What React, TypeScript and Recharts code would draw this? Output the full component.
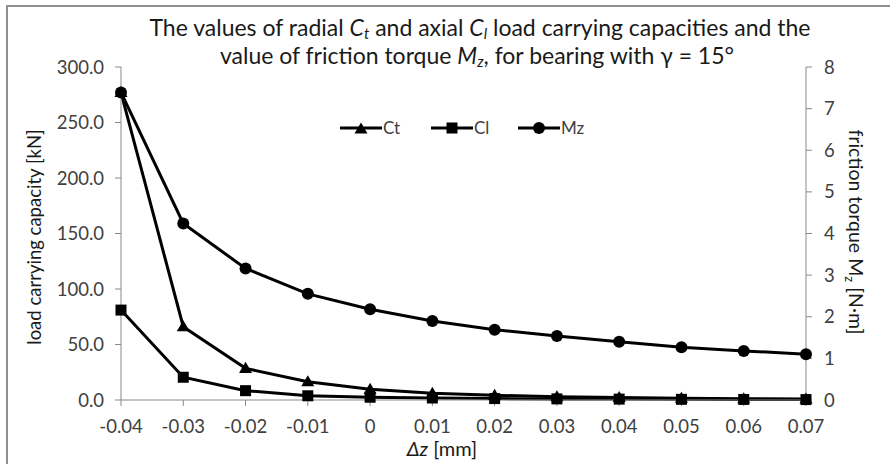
import React from 'react';
import { LineChart, Line, XAxis, YAxis } from 'recharts';

const xLabels = ['-0.04', '-0.03', '-0.02', '-0.01', '0', '0.01', '0.02', '0.03', '0.04', '0.05', '0.06', '0.07'];
const ctValues = [277, 66, 28.5, 16.5, 9.6, 6.0, 4.2, 3.0, 2.2, 1.6, 1.2, 1.0];
const clValues = [81, 20.5, 8.4, 3.8, 2.5, 1.8, 1.3, 1.0, 0.8, 0.6, 0.5, 0.4];
const mzValues = [7.39, 4.24, 3.16, 2.55, 2.18, 1.9, 1.69, 1.54, 1.4, 1.27, 1.18, 1.1];
const leftTicks = [0, 50, 100, 150, 200, 250, 300];
const rightTicks = [0, 1, 2, 3, 4, 5, 6, 7, 8];
const seriesNames = ['Ct', 'Cl', 'Mz'];

const data = xLabels.map((l, i) => ({
  x: parseFloat(l),
  Ct: ctValues[i],
  Cl: clValues[i],
  Mz: mzValues[i],
}));

const FONT = 'Lato, "Open Sans", sans-serif';
const AXIS_COLOR = '#898989';
const TEXT_COLOR = '#404040';

const Triangle = (props: any) => {
  const { cx, cy } = props;
  if (cx == null || cy == null) return null;
  const s = 6.5;
  return <polygon points={`${cx},${cy - s} ${cx + s},${cy + s * 0.7} ${cx - s},${cy + s * 0.7}`} fill="#000" />;
};
const Square = (props: any) => {
  const { cx, cy } = props;
  if (cx == null || cy == null) return null;
  return <rect x={cx - 5.5} y={cy - 5.5} width={11} height={11} fill="#000" />;
};
const Circle = (props: any) => {
  const { cx, cy } = props;
  if (cx == null || cy == null) return null;
  return <circle cx={cx} cy={cy} r={6} fill="#000" />;
};

const legendItems = [
  { name: seriesNames[0], x: 340, shape: 'tri' },
  { name: seriesNames[1], x: 431, shape: 'sq' },
  { name: seriesNames[2], x: 518, shape: 'circ' },
];

export default function App() {
  const ly = 128;
  return (
    <div style={{ position: 'absolute', left: 0, top: 0, width: 890, height: 464, background: '#fff', overflow: 'hidden' }}>
      <div style={{ position: 'absolute', left: 6, top: 5, width: 900, height: 500, border: '2px solid #8f8f8f', boxSizing: 'border-box' }} />
      <div style={{ position: 'absolute', left: 0, top: 0 }}>
        <LineChart width={890} height={464} data={data} margin={{ top: 67, right: 0, bottom: 0, left: 0 }}>
          <XAxis
            dataKey="x"
            type="number"
            domain={[-0.04, 0.07]}
            ticks={data.map((d) => d.x)}
            tickFormatter={(_v: any, i: number) => xLabels[i]}
            height={64}
            stroke={AXIS_COLOR}
            tickSize={6}
            tickMargin={14}
            tick={{ fill: TEXT_COLOR, fontSize: 18.5, fontFamily: FONT }}
            interval={0}
            allowDecimals
          />
          <YAxis
            yAxisId="left"
            domain={[0, 300]}
            ticks={leftTicks}
            tickFormatter={(v: number) => v.toFixed(1)}
            width={121}
            stroke={AXIS_COLOR}
            tickSize={6}
            tickMargin={11}
            tick={{ fill: TEXT_COLOR, fontSize: 18.5, fontFamily: FONT }}
            interval={0}
          />
          <YAxis
            yAxisId="right"
            orientation="right"
            domain={[0, 8]}
            ticks={rightTicks}
            width={84}
            stroke={AXIS_COLOR}
            tickSize={6}
            tickMargin={12}
            tick={{ fill: TEXT_COLOR, fontSize: 18.5, fontFamily: FONT, textAnchor: 'start' }}
            interval={0}
          />
          <Line yAxisId="left" dataKey="Ct" name={seriesNames[0]} stroke="#000" strokeWidth={3} dot={<Triangle />} activeDot={false} isAnimationActive={false} />
          <Line yAxisId="left" dataKey="Cl" name={seriesNames[1]} stroke="#000" strokeWidth={3} dot={<Square />} activeDot={false} isAnimationActive={false} />
          <Line yAxisId="right" dataKey="Mz" name={seriesNames[2]} stroke="#000" strokeWidth={3} dot={<Circle />} activeDot={false} isAnimationActive={false} />
        </LineChart>
      </div>
      <svg width={890} height={464} style={{ position: 'absolute', left: 0, top: 0, pointerEvents: 'none' }}>
        <g>
          {legendItems.map((it) => {
            const cx = it.x + 21;
            return (
              <g key={it.name}>
                <line x1={it.x} x2={it.x + 42} y1={ly} y2={ly} stroke="#000" strokeWidth={3} />
                {it.shape === 'tri' && <Triangle cx={cx} cy={ly + 1} />}
                {it.shape === 'sq' && <Square cx={cx} cy={ly} />}
                {it.shape === 'circ' && <Circle cx={cx} cy={ly} />}
                <text x={it.x + 43} y={ly + 6} fontSize={17} fontFamily={FONT} fill={TEXT_COLOR}>{it.name}</text>
              </g>
            );
          })}
        </g>
        <g fontFamily={FONT} fill="#1a1a1a">
          <text x={480} y={36} fontSize={23} textAnchor="middle">
            The values of radial <tspan fontStyle="italic">C</tspan>
            <tspan fontStyle="italic" fontSize={15} dy={3}>t</tspan>
            <tspan dy={-3}> and axial  </tspan>
            <tspan fontStyle="italic">C</tspan>
            <tspan fontStyle="italic" fontSize={15} dy={3}>l</tspan>
            <tspan dy={-3}> load carrying capacities and the</tspan>
          </text>
          <text x={477} y={64} fontSize={23} textAnchor="middle">
            value of friction torque <tspan fontStyle="italic">M</tspan>
            <tspan fontStyle="italic" fontSize={15} dy={3}>z</tspan>
            <tspan dy={-3}>, for bearing with γ = 15°</tspan>
          </text>
          <text transform="translate(41,237) rotate(-90)" fontSize={18.5} textAnchor="middle">
            load carrying capacity [kN]
          </text>
          <text transform="translate(849,232) rotate(90)" fontSize={19.5} textAnchor="middle">
            friction torque M<tspan fontSize={13} dy={4}>z</tspan><tspan dy={-4}> [N·m]</tspan>
          </text>
          <text x={442} y={456} fontSize={20} textAnchor="middle">
            <tspan fontStyle="italic">Δz</tspan> [mm]
          </text>
        </g>
      </svg>
    </div>
  );
}
